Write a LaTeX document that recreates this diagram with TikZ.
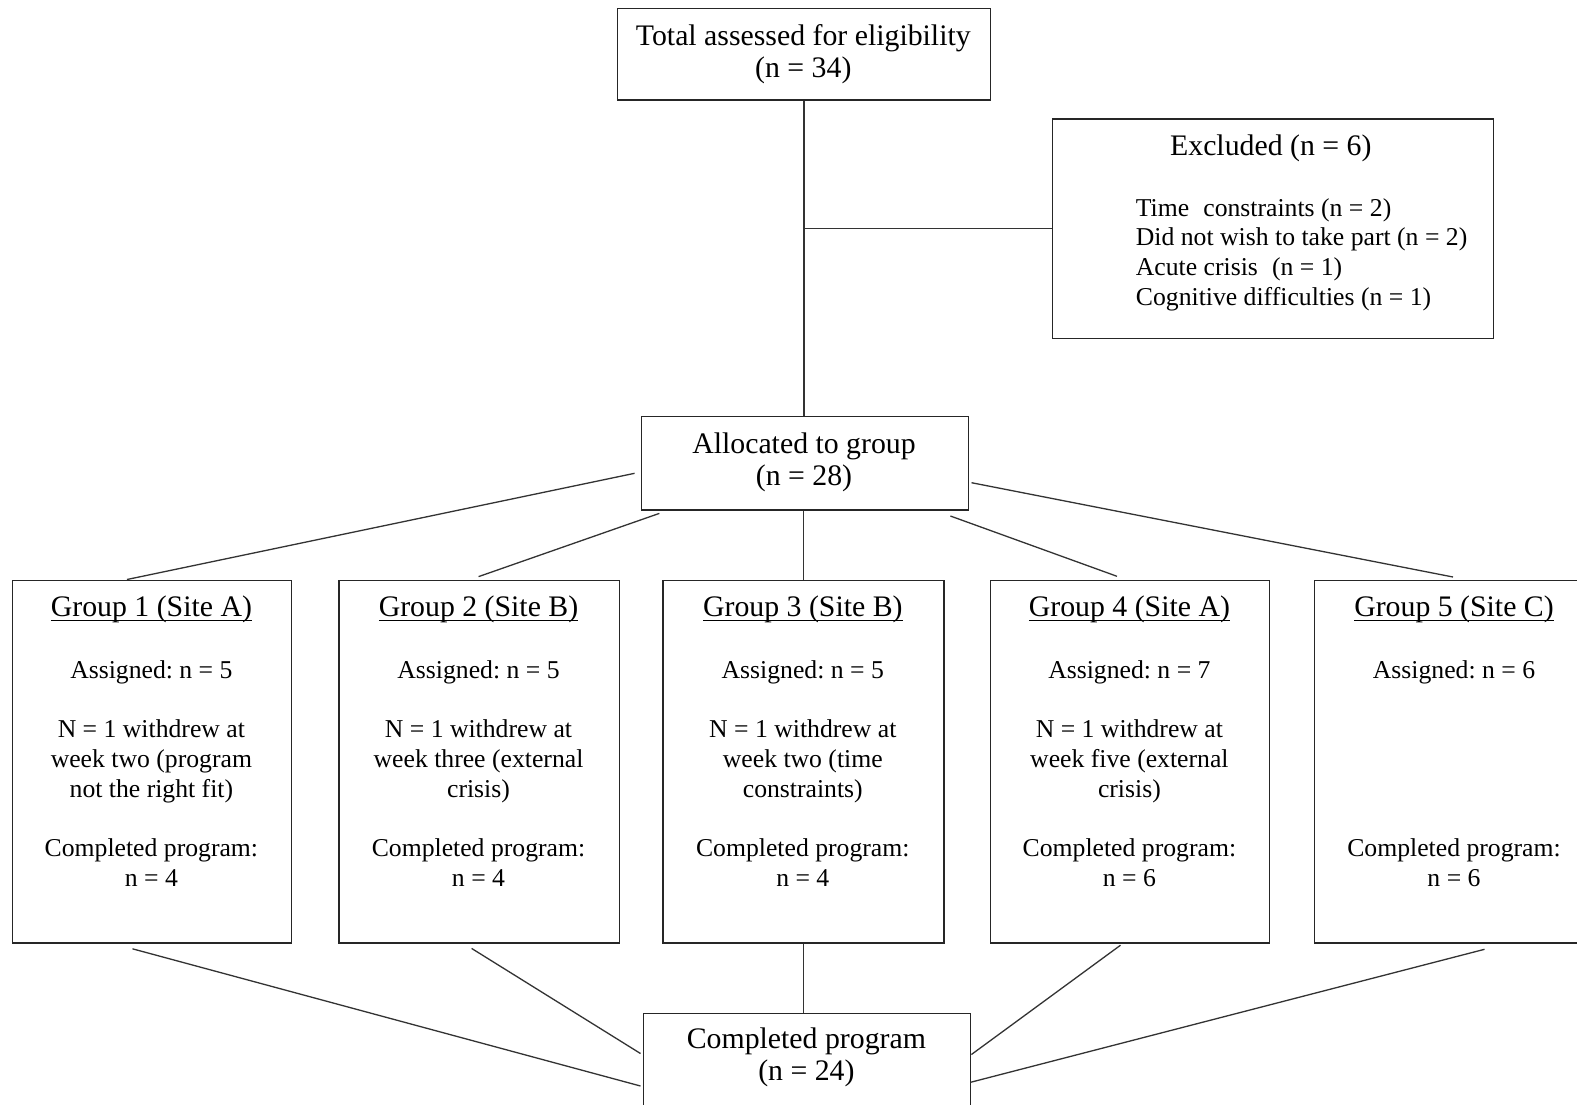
\documentclass[tikz,border=0pt]{standalone}
\usepackage{fontspec}
\setmainfont{Liberation Serif}
\frenchspacing
% first-line strut: fixes the distance from a node's top edge to its first baseline
\newcommand\lnstrut{\rule{0pt}{25pt}}
% Word-style underline sitting just below the baseline
\newcommand\grpul[1]{\setbox0\hbox{#1}\rlap{\rule[-4.5pt]{\wd0}{1.2pt}}\box0}
\tikzset{
  panel/.style={draw=black!85, line width=1.4pt, inner sep=0pt, anchor=north west},
  conn/.style={draw=black!80, line width=1.3pt},
  bigtxt/.style={font=\fontsize{29.8}{32}\selectfont, align=center, inner sep=0pt, anchor=north},
  smalltxt/.style={font=\fontsize{25.7}{29.7}\selectfont, align=center, inner sep=0pt, anchor=north},
}
\begin{document}
\begin{tikzpicture}[x=1pt,y=-1pt]
\useasboundingbox (0,0) rectangle (1577,1104);
\fill[white] (0,0) rectangle (1577,1104);
\clip (0,0) rectangle (1577,1104);

% ---- boxes ----
\node[panel, minimum width=373.3pt, minimum height=91.3pt]  (top)   at (616.7,8)     {};
\node[panel, minimum width=440.8pt, minimum height=219.4pt] (excl)  at (1051.7,118.3) {};
\node[panel, minimum width=326.7pt, minimum height=93.3pt]  (alloc) at (641,416)     {};
\node[panel, minimum width=279.3pt, minimum height=362.3pt] (g1)    at (11.7,580)    {};
\node[panel, minimum width=280.4pt, minimum height=362.3pt] (g2)    at (338.3,580)   {};
\node[panel, minimum width=281pt,   minimum height=362.3pt] (g3)    at (662.3,580)   {};
\node[panel, minimum width=278.7pt, minimum height=362.3pt] (g4)    at (990,580)     {};
\node[panel, minimum width=280pt,   minimum height=362.3pt] (g5)    at (1314,580)    {};
\node[panel, minimum width=327.3pt, minimum height=140pt]   (done)  at (642.7,1012.7) {};

% ---- texts ----
\node[bigtxt] (toptxt) at (803.3,20) {\lnstrut Total assessed for eligibility\\(n = 34)};
\node[bigtxt] (excltitle) at (1270.8,130) {\lnstrut Excluded (n = 6)};
\node[smalltxt, align=left, anchor=north west] (excllist) at (1135.7,191)
  {\lnstrut Time\hspace{0.3em} constraints (n = 2)\\
   Did not wish to take part (n = 2)\\
   Acute crisis\hspace{0.3em} (n = 1)\\
   Cognitive difficulties (n = 1)};
\node[bigtxt] (alloctxt) at (804,428.5) {\lnstrut Allocated to group\\(n = 28)};
\node[bigtxt] (donetxt) at (806.4,1023.3) {\lnstrut Completed program\\(n = 24)};

\node[bigtxt] (g1t) at (151.4,591.7) {\lnstrut\grpul{Group 1 (Site A)}};
\node[bigtxt] (g2t) at (478.5,591.7) {\lnstrut\grpul{Group 2 (Site B)}};
\node[bigtxt] (g3t) at (802.8,591.7) {\lnstrut\grpul{Group 3 (Site B)}};
\node[bigtxt] (g4t) at (1129.4,591.7) {\lnstrut\grpul{Group 4 (Site A)}};
\node[bigtxt] (g5t) at (1454,591.7) {\lnstrut\grpul{Group 5 (Site C)}};

\node[smalltxt] (g1b) at (151.4,653.3) {\lnstrut Assigned: n = 5\\[29.7pt]
  N = 1 withdrew at\\week two (program\\not the right fit)\\[29.7pt]
  Completed program:\\n = 4};
\node[smalltxt] (g2b) at (478.5,653.3) {\lnstrut Assigned: n = 5\\[29.7pt]
  N = 1 withdrew at\\week three (external\\crisis)\\[29.7pt]
  Completed program:\\n = 4};
\node[smalltxt] (g3b) at (802.8,653.3) {\lnstrut Assigned: n = 5\\[29.7pt]
  N = 1 withdrew at\\week two (time\\constraints)\\[29.7pt]
  Completed program:\\n = 4};
\node[smalltxt] (g4b) at (1129.4,653.3) {\lnstrut Assigned: n = 7\\[29.7pt]
  N = 1 withdrew at\\week five (external\\crisis)\\[29.7pt]
  Completed program:\\n = 6};
\node[smalltxt] (g5b) at (1454,653.3) {\lnstrut Assigned: n = 6\\[148.5pt]
  Completed program:\\n = 6};

% ---- free ends of the slanted connectors ----
\coordinate (a1) at (634.6,473.3);  \coordinate (t1) at (127,579.5);
\coordinate (a2) at (659.3,513.4);  \coordinate (t2) at (478.6,576.6);
\coordinate (a4) at (950.4,516);    \coordinate (t4) at (1117,576.3);
\coordinate (a5) at (971.5,482.7);  \coordinate (t5) at (1453,577);
\coordinate (b1) at (132.5,948.8);  \coordinate (d1) at (640.5,1086);
\coordinate (b2) at (471.6,948.4);  \coordinate (d2) at (640.5,1053.5);
\coordinate (b4) at (1120.5,945.2); \coordinate (d4) at (971.4,1054.5);
\coordinate (b5) at (1484.5,949.3); \coordinate (d5) at (970.5,1082.3);

% ---- connectors ----
\draw[conn] (top.south) -- (top.south |- alloc.north);
\draw[conn] (top.south |- excl.west) -- (excl.west);
\draw[conn] (g3.north |- alloc.south) -- (g3.north);
\draw[conn] (g3.south) -- (g3.south |- done.north);
\draw[conn] (a1) -- (t1);
\draw[conn] (a2) -- (t2);
\draw[conn] (a4) -- (t4);
\draw[conn] (a5) -- (t5);
\draw[conn] (b1) -- (d1);
\draw[conn] (b2) -- (d2);
\draw[conn] (b4) -- (d4);
\draw[conn] (b5) -- (d5);
\end{tikzpicture}
\end{document}
